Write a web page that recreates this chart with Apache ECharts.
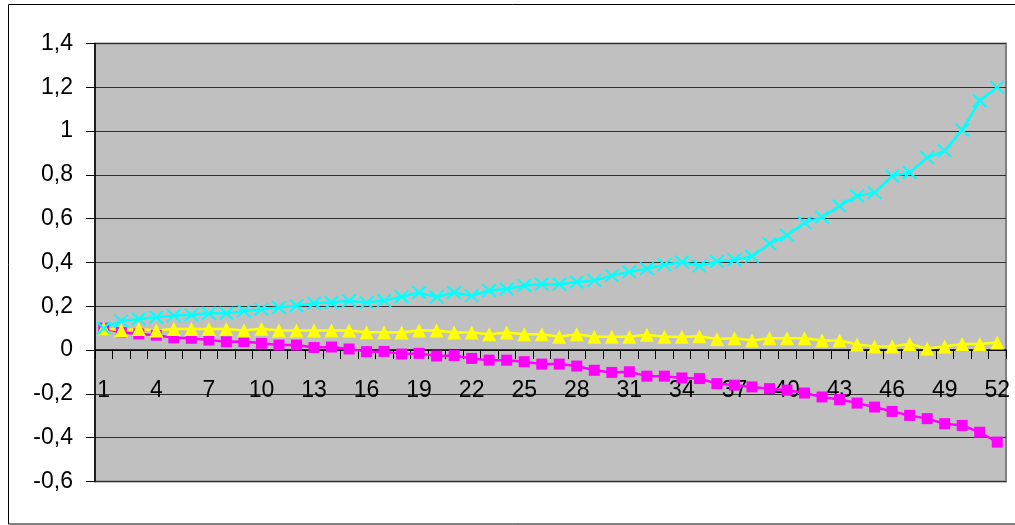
<!DOCTYPE html>
<html>
<head>
<meta charset="utf-8">
<style>
  html, body { margin: 0; padding: 0; background: #ffffff; }
  #chart { width: 1015px; height: 525px; }
</style>
<script src="https://cdn.jsdelivr.net/npm/echarts@6/dist/echarts.min.js"></script>
</head>
<body>
<div id="chart"></div>
<script>
const categories = ['1','2','3','4','5','6','7','8','9','10','11','12','13','14','15','16','17','18','19','20','21','22','23','24','25','26','27','28','29','30','31','32','33','34','35','36','37','38','39','40','41','42','43','44','45','46','47','48','49','50','51','52'];

const magentaValues = [0.1, 0.08, 0.074, 0.068, 0.056, 0.054, 0.046, 0.038, 0.039, 0.031, 0.023, 0.023, 0.012, 0.014, 0.005, -0.007, -0.006, -0.018, -0.015, -0.027, -0.025, -0.038, -0.046, -0.046, -0.053, -0.064, -0.064, -0.073, -0.092, -0.102, -0.099, -0.119, -0.119, -0.127, -0.13, -0.153, -0.16, -0.168, -0.176, -0.183, -0.196, -0.214, -0.226, -0.242, -0.26, -0.28, -0.298, -0.313, -0.336, -0.344, -0.375, -0.42];

const yellowValues = [0.1, 0.089, 0.096, 0.089, 0.096, 0.096, 0.096, 0.096, 0.089, 0.097, 0.089, 0.089, 0.089, 0.089, 0.089, 0.082, 0.082, 0.08, 0.09, 0.089, 0.08, 0.08, 0.072, 0.08, 0.072, 0.072, 0.061, 0.072, 0.061, 0.061, 0.061, 0.07, 0.061, 0.061, 0.063, 0.051, 0.054, 0.044, 0.054, 0.054, 0.054, 0.044, 0.044, 0.026, 0.017, 0.017, 0.028, 0.007, 0.017, 0.028, 0.028, 0.035];

const cyanValues = [0.1, 0.133, 0.142, 0.15, 0.157, 0.161, 0.168, 0.168, 0.179, 0.187, 0.194, 0.203, 0.214, 0.217, 0.225, 0.217, 0.226, 0.244, 0.263, 0.242, 0.263, 0.248, 0.272, 0.279, 0.295, 0.301, 0.301, 0.311, 0.318, 0.34, 0.357, 0.372, 0.39, 0.402, 0.384, 0.404, 0.413, 0.428, 0.486, 0.524, 0.581, 0.607, 0.658, 0.704, 0.719, 0.795, 0.811, 0.879, 0.91, 1.005, 1.139, 1.2];

const yMin = -0.6, yMax = 1.4, yStep = 0.2;

const crossPath = 'path://M0,1 L1,0 L5,4 L9,0 L10,1 L6,5 L10,9 L9,10 L5,6 L1,10 L0,9 L4,5 Z';
const fontFamily = '"Liberation Sans", Arial, sans-serif';

const gridTop = 43.5, gridBottom = 43.5, chartHeight = 525;
const plotHeight = chartHeight - gridTop - gridBottom;
// shift the category axis up so it sits on the value 0
const zeroOffset = -plotHeight * (0 - yMin) / (yMax - yMin);

const chart = echarts.init(document.getElementById('chart'), null, { renderer: 'canvas' });
chart.setOption({
  animation: false,
  backgroundColor: '#ffffff',
  graphic: [{
    type: 'rect',
    left: 6, top: 2,
    shape: { width: 1015, height: 519.5 },
    style: { fill: 'none', stroke: '#000000', lineWidth: 1 },
    silent: true
  }],
  grid: {
    left: 95, right: 9, top: gridTop, bottom: gridBottom,
    show: true,
    backgroundColor: '#C0C0C0',
    borderColor: '#808080',
    borderWidth: 2,
    containLabel: false
  },
  xAxis: {
    type: 'category',
    data: categories,
    boundaryGap: true,
    position: 'bottom',
    offset: zeroOffset,
    axisLine: { onZero: false, lineStyle: { color: '#000000', width: 1.5 } },
    axisTick: { show: true, interval: 0, length: 9, lineStyle: { color: '#000000', width: 1 } },
    axisLabel: { interval: 2, margin: 29, fontSize: 23, color: '#000000', fontFamily: fontFamily },
    splitLine: { show: false }
  },
  yAxis: {
    type: 'value',
    min: yMin, max: yMax, interval: yStep,
    axisLine: { show: true, lineStyle: { color: '#000000', width: 1.5 } },
    axisTick: { show: true, length: 9, lineStyle: { color: '#000000', width: 1 } },
    axisLabel: {
      margin: 22, fontSize: 23, color: '#000000', fontFamily: fontFamily,
      formatter: function (v) { return String(+v.toFixed(1)).replace('.', ','); }
    },
    splitLine: { show: true, lineStyle: { color: '#303030', width: 1.2 } }
  },
  series: [
    {
      type: 'line', data: magentaValues, showAllSymbol: true,
      symbol: 'rect', symbolSize: 11,
      lineStyle: { color: '#FF00FF', width: 2.5 },
      itemStyle: { color: '#FF00FF', borderWidth: 0 }
    },
    {
      type: 'line', data: yellowValues, showAllSymbol: true,
      symbol: 'triangle', symbolSize: [14, 14],
      lineStyle: { color: '#FFFF00', width: 2.5 },
      itemStyle: { color: '#FFFF00', borderWidth: 0 }
    },
    {
      type: 'line', data: cyanValues, showAllSymbol: true,
      symbol: crossPath, symbolSize: [15, 14],
      lineStyle: { color: '#00FFFF', width: 2.5 },
      itemStyle: { color: '#00FFFF', borderWidth: 0 }
    }
  ]
});
</script>
</body>
</html>
